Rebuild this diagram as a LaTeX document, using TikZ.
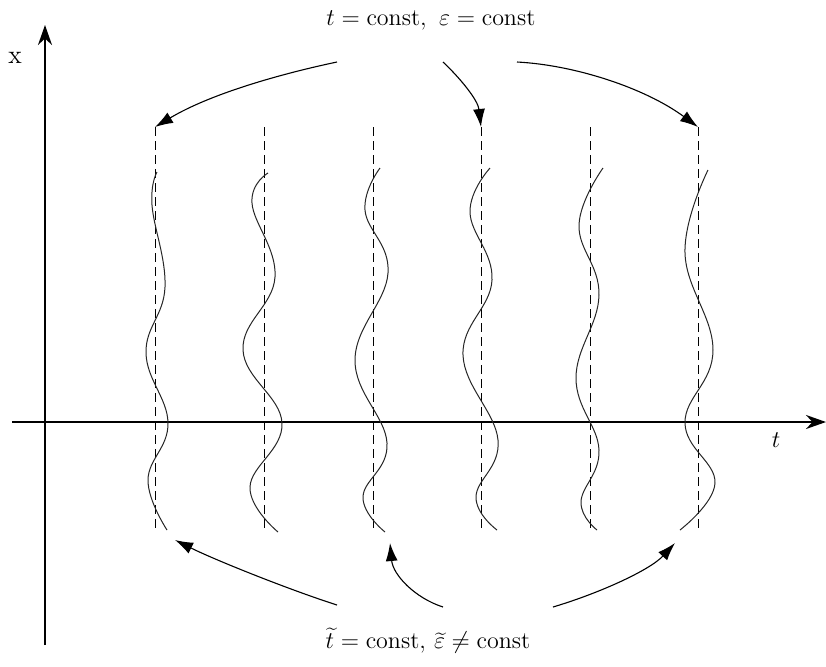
\documentclass[tikz,border=0pt]{standalone}
\usetikzlibrary{arrows.meta}
\begin{document}
\begin{tikzpicture}[x=0.5pt,y=-0.5pt,
  axisline/.style={line width=1pt,-{Stealth[length=10pt,width=7pt]}},
  guide/.style={line width=0.5pt,dash pattern=on 4.5pt off 2.5pt},
  wave/.style={line width=0.5pt,black!85},
  pointer/.style={line width=0.55pt,-{Latex[length=9pt,width=6pt]}},
  lab/.style={inner sep=0pt,font=\fontsize{13}{15}\selectfont}]
\useasboundingbox (0,0) rectangle (826,666);
% axes
\coordinate (vb) at (45,645);
\coordinate (vt) at (45,25);
\coordinate (hl) at (12,422);
\coordinate (hr) at (826,422);
\draw[axisline] (vb) -- (vt);
\draw[axisline] (hl) -- (hr);
\node[lab] (xlab) at (15,58) {x};
\node[lab] (tlab) at (776,440) {$t$};
% dashed guides
\foreach \i/\xx in {1/155,2/264,3/373,4/481,5/590,6/698}{
  \coordinate (d\i t) at (\xx,127);
  \coordinate (d\i b) at (\xx,528);
  \draw[guide] (d\i t) -- (d\i b);
}
% wavy lines
\draw[wave] plot[smooth,tension=0.7] coordinates {(157,172) (152,205) (165,287) (146,353) (168,423) (148,480) (167,530)};
\draw[wave] plot[smooth,tension=0.7] coordinates {(268,173) (252,203) (275,277) (243,350) (282,423) (250,487) (278,532)};
\draw[wave] plot[smooth,tension=0.7] coordinates {(380,168) (365,210) (388,273) (355,360) (387,443) (363,497) (385,532)};
\draw[wave] plot[smooth,tension=0.7] coordinates {(490,168) (470,212) (492,280) (463,355) (498,440) (476,497) (497,530)};
\draw[wave] plot[smooth,tension=0.7] coordinates {(603,168) (579,225) (599,295) (576,378) (599,450) (581,502) (597,530)};
\draw[wave] plot[smooth,tension=0.7] coordinates {(708,170) (685,253) (713,350) (685,423) (715,483) (680,530)};
% labels
\node[lab] (top) at (431,20) {$t=\mathrm{const},\ \varepsilon=\mathrm{const}$};
\node[lab] (bot) at (428,641) {$\widetilde{t}=\mathrm{const},\,\widetilde{\varepsilon}\neq\mathrm{const}$};
% arrow endpoints
\coordinate (a1s) at (337,62);
\coordinate (a2s) at (443,62);
\coordinate (a3s) at (517,62);
\coordinate (a4s) at (337,605);
\coordinate (a5s) at (443,607);
\coordinate (a6s) at (553,607);
\coordinate (a4e) at (175,540);
\coordinate (a5e) at (390,543);
\coordinate (a6e) at (675,543);
\draw[pointer] (a1s) .. controls (280,74) and (210,94) .. (d1t);
\draw[pointer] (a2s) .. controls (460,78) and (478,100) .. (d4t);
\draw[pointer] (a3s) .. controls (575,65) and (645,88) .. (d6t);
\draw[pointer] (a4s) .. controls (290,590) and (215,560) .. (a4e);
\draw[pointer] (a5s) .. controls (415,598) and (393,575) .. (a5e);
\draw[pointer] (a6s) .. controls (600,593) and (650,570) .. (a6e);
\end{tikzpicture}
\end{document}
